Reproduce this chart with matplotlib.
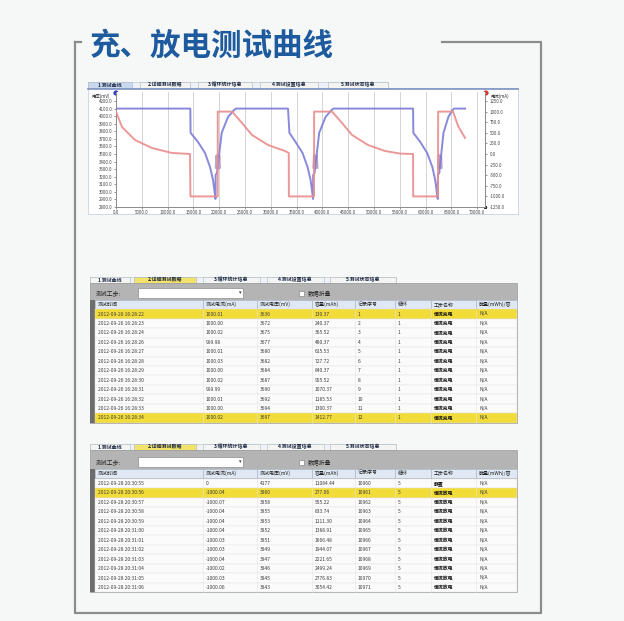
import matplotlib.pyplot as plt
from matplotlib.patches import Rectangle, Circle

plt.rcParams['font.family'] = ['Noto Sans CJK SC', 'DejaVu Sans']

W, H = 624, 621

title = "充、放电测试曲线"
chart_tabs = ["1.测试曲线", "2.详细测试数据", "3.循环统计信息", "4.测试设置信息", "5.测试状态信息"]

# voltage curve, time (s) / voltage (mV)
volt_t = [0, 14400, 14450, 15890, 17250, 18220, 18800, 19190, 19280, 19300, 19570, 20470, 21700, 22870, 23250,
          33330, 33600, 34790, 36150, 37120, 37700, 38090, 38180, 38200, 38470, 39370, 40600, 41770, 42150,
          57560, 57610, 58950, 60300, 61300, 61850, 62250, 62350, 62370, 62640, 63450, 64400, 65200, 65500, 67640]
volt_v = [4100, 4100, 3780, 3659, 3513, 3328, 3157, 2958, 2906, 3223, 3249, 3778, 3989, 4081, 4100,
          4100, 3780, 3659, 3513, 3328, 3157, 2958, 2906, 3223, 3249, 3778, 3989, 4081, 4100,
          4100, 3780, 3659, 3513, 3328, 3157, 2958, 2906, 3223, 3249, 3778, 3989, 4081, 4100, 4100]

# short pulse block after each discharge
pulse_t = [[19350, 19480, 19610, 19740, 19870, 20000, 20130],
           [38250, 38380, 38510, 38640, 38770, 38900, 39030],
           [62420, 62530, 62640, 62750, 62860, 62970, 63080]]
pulse_v = [[3320, 3480, 3320, 3480, 3320, 3480, 3320],
           [3320, 3480, 3320, 3480, 3320, 3480, 3320],
           [3320, 3480, 3320, 3480, 3320, 3480, 3320]]

# current curve, time (s) / current (mA)
curr_t = [0, 1160, 3680, 6980, 10850, 14340, 14420, 19700, 19720, 22480, 24420, 26360, 29460, 32750, 33480,
          33500, 38370, 38390, 41860, 43800, 45740, 48840, 52130, 55000, 57560, 57580, 62400, 62420, 65310,
          66280, 67640]
curr_i = [1000, 637, 330, 141, 24, 0, -1000, -1000, 1000, 1000, 731, 448, 212, 71, 24,
          -1000, -1000, 1000, 1000, 731, 448, 212, 71, 10, 0, -1000, -1000, 1000, 1000,
          660, 377]

volt_ticks = [2800, 2900, 3000, 3100, 3200, 3300, 3400, 3500, 3600, 3700, 3800, 3900, 4000, 4100, 4200]
curr_ticks = [-1250, -1000, -750, -500, -250, 0, 250, 500, 750, 1000, 1250]
time_ticks = [0, 5000, 10000, 15000, 20000, 25000, 30000, 35000, 40000, 45000, 50000, 55000, 60000, 65000, 70000]

table_tabs = ["1.测试曲线", "2.详细测试数据", "3.循环统计信息", "4.测试设置信息", "5.测试状态信息"]
headers = ["测试时间", "测试电流(mA)", "测试电压(mV)", "容量(mAh)", "记录序号", "循环", "工步名称", "能量(mWh)/容"]

t1_time = ["2012-09-26 16:28:22", "2012-09-26 16:28:23", "2012-09-26 16:28:24", "2012-09-26 16:28:26",
           "2012-09-26 16:28:27", "2012-09-26 16:28:28", "2012-09-26 16:28:29", "2012-09-26 16:28:30",
           "2012-09-26 16:28:31", "2012-09-26 16:28:32", "2012-09-26 16:28:33", "2012-09-26 16:28:34"]
t1_curr = ["1000.01", "1000.00", "1000.02", "999.98", "1000.01", "1000.03",
           "1000.00", "1000.02", "999.99", "1000.01", "1000.00", "1000.02"]
t1_volt = ["3636", "3672", "3675", "3677", "3680", "3682", "3684", "3687", "3690", "3692", "3694", "3697"]
t1_cap = ["130.37", "240.37", "365.52", "480.37", "615.53", "727.72",
          "840.37", "955.52", "1070.37", "1185.53", "1300.37", "1412.77"]
t1_seq = ["1", "2", "3", "4", "5", "6", "7", "8", "9", "10", "11", "12"]
t1_cycle = ["1"] * 12
t1_step = ["恒流充电"] * 12
t1_last = ["N/A"] * 12

t2_time = ["2012-09-28 20:30:55", "2012-09-28 20:30:56", "2012-09-28 20:30:57", "2012-09-28 20:30:58",
           "2012-09-28 20:30:59", "2012-09-28 20:31:00", "2012-09-28 20:31:01", "2012-09-28 20:31:02",
           "2012-09-28 20:31:03", "2012-09-28 20:31:04", "2012-09-28 20:31:05", "2012-09-28 20:31:06"]
t2_curr = ["0", "-1000.04", "-1000.07", "-1000.04", "-1000.04", "-1000.04",
           "-1000.03", "-1000.03", "-1000.04", "-1000.02", "-1000.03", "-1000.06"]
t2_volt = ["4177", "3860", "3858", "3855", "3853", "3852", "3851", "3849", "3847", "3846", "3845", "3843"]
t2_cap = ["11084.44", "277.06", "555.22", "833.74", "1111.30", "1388.91",
          "1666.48", "1944.07", "2221.65", "2499.24", "2776.83", "3054.42"]
t2_seq = ["10960", "10961", "10962", "10963", "10964", "10965",
          "10966", "10967", "10968", "10969", "10970", "10971"]
t2_cycle = ["5"] * 12
t2_step = ["静置"] + ["恒流放电"] * 11
t2_last = ["N/A"] * 12

col_x = [95, 203, 257, 312, 355, 395, 431, 476, 517]

fig = plt.figure(figsize=(W / 100, H / 100), dpi=100, facecolor='#f6f8f7')
bg = fig.add_axes([0, 0, 1, 1])
bg.set_xlim(0, W)
bg.set_ylim(H, 0)
bg.axis('off')

# outer frame
fc = '#8c8c8c'
bg.plot([75, 75, 541, 541, 442], [42, 613, 613, 42, 42], color=fc, lw=1.6)
bg.plot([75, 81], [42, 42], color=fc, lw=1.6)
bg.text(90, 46, title, fontsize=22, fontweight='bold', color='#1d5a9e', va='center', ha='left')


def draw_tabs(y0, y1, spans, labels, active, active_fc):
    bg.add_patch(Rectangle((spans[0][0], y0), spans[-1][1] - spans[0][0], y1 - y0,
                           fc='#eef1f5', ec='#c3cbd6', lw=0.5))
    for i, ((a, b), lab) in enumerate(zip(spans, labels)):
        face = active_fc if i == active else '#f4f5f2'
        bg.add_patch(Rectangle((a, y0), b - a, y1 - y0, fc=face, ec='#aab4c2', lw=0.4))
        bg.text((a + b) / 2, (y0 + y1) / 2, lab, fontsize=3.6, color='#1e2a44',
                fontweight='bold', ha='center', va='center')


# ---- chart panel ----
bg.add_patch(Rectangle((88, 88), 430, 126, fc='white', ec='#c9d3e0', lw=0.6))
bg.plot([88, 518], [89, 89], color='#7d93c0', lw=1.2)
draw_tabs(82, 88, [(88, 132), (140, 190), (198, 252), (260, 318), (328, 388)],
          chart_tabs, 0, '#c9d8ee')

ax = fig.add_axes([116 / W, 1 - 207 / H, (485 - 116) / W, (207 - 92) / H])
ax.set_facecolor('white')
ax.set_xlim(0, 71500)
ax.set_ylim(2800, 4319)
ax.set_xticks(time_ticks)
ax.set_xticklabels([f"{t:.1f}" for t in time_ticks])
ax.set_yticks(volt_ticks)
ax.set_yticklabels([f"{v:.1f}" for v in volt_ticks])
ax.tick_params(labelsize=3.2, length=1.5, width=0.4, pad=1, colors='#444444')
ax.grid(axis='x', color='#d4d4d4', lw=0.7)
ax.spines['top'].set_visible(False)
for s in ['left', 'bottom', 'right']:
    ax.spines[s].set_color('#8a8a8a')
    ax.spines[s].set_linewidth(0.7)
ax.plot(volt_t, volt_v, color='#7c7cd8', lw=1.4, alpha=0.9, zorder=3)
for pt, pv in zip(pulse_t, pulse_v):
    ax.plot(pt, pv, color='#b9a6c8', lw=1.6, zorder=2)

ax2 = ax.twinx()
ax2.set_ylim(-1250, 1462)
ax2.set_yticks(curr_ticks)
ax2.set_yticklabels([f"{c:.1f}" for c in curr_ticks])
ax2.tick_params(labelsize=3.2, length=1.5, width=0.4, pad=2, colors='#444444')
for s in ['top', 'left', 'bottom']:
    ax2.spines[s].set_visible(False)
ax2.spines['right'].set_color('#8a8a8a')
ax2.spines['right'].set_linewidth(0.7)
ax2.plot(curr_t, curr_i, color='#e88d8d', lw=1.4, alpha=0.9, zorder=2)

bg.text(91, 96, "电压(mV)", fontsize=3.2, color='#333333', va='center')
bg.text(490, 96, "电流(mA)", fontsize=3.2, color='#333333', va='center')
bg.add_patch(Circle((116, 93), 2.6, fc='#3340c8', ec='none', zorder=10))
bg.add_patch(Circle((486, 93), 2.6, fc='#d83a3a', ec='none', zorder=10))
bg.add_patch(Rectangle((484, 205.5), 3, 3, fc='#333333', ec='none', zorder=10))


# ---- tables ----
def draw_table(tab_y, top, bottom, combo_y, head_y, row_y0, columns, yellow):
    draw_tabs(tab_y, tab_y + 6, [(90, 130), (134, 196), (203, 260), (267, 324), (330, 396)],
              table_tabs, 1, '#f3e36a')
    bg.add_patch(Rectangle((90, top), 427, bottom - top, fc='#b4b4b4', ec='#9a9a9a', lw=0.5))
    bg.text(96, combo_y, "测试工步:", fontsize=4.2, color='#222222', va='center')
    bg.add_patch(Rectangle((138, combo_y - 5), 105, 10, fc='white', ec='#8d8d8d', lw=0.5))
    bg.text(240, combo_y, "▾", fontsize=3.6, color='#333333', va='center', ha='center')
    bg.add_patch(Rectangle((299, combo_y - 2.5), 5, 5, fc='white', ec='#777777', lw=0.4))
    bg.text(308, combo_y, "数据折叠", fontsize=4.2, color='#222222', va='center')
    bg.add_patch(Rectangle((90, head_y - 4.5), 5, bottom - head_y + 4.5, fc='#6d6d6d', ec='none'))
    for j, h in enumerate(headers):
        bg.add_patch(Rectangle((col_x[j], head_y - 4.5), col_x[j + 1] - col_x[j], 9,
                               fc='#dfe8f3', ec='#a7b4c6', lw=0.4))
        bg.text(col_x[j] + 3, head_y, h, fontsize=3.6, color='#222222', va='center',
                clip_on=True)
    n = len(columns[0])
    rh = 9.45
    for r in range(n):
        yc = row_y0 + r * rh
        face = '#f2dc3a' if r in yellow else '#fbfbfb'
        bg.add_patch(Rectangle((95, yc - rh / 2), 422, rh, fc=face, ec='#e2e2e2', lw=0.3))
        for j in range(len(columns)):
            bold = j == 6
            bg.text(col_x[j] + 3, yc, columns[j][r], fontsize=3.5,
                    color='#111111' if bold else '#3a3a3a',
                    fontweight='bold' if bold else 'normal', va='center')
    for xc in col_x[1:-1]:
        bg.plot([xc, xc], [row_y0 - rh / 2, row_y0 + (n - 0.5) * rh], color='#e4e4e4', lw=0.4)


draw_table(277, 283, 423, 293, 304.5, 314,
           [t1_time, t1_curr, t1_volt, t1_cap, t1_seq, t1_cycle, t1_step, t1_last], [0, 11])
draw_table(444, 450, 592, 462, 473, 483.5,
           [t2_time, t2_curr, t2_volt, t2_cap, t2_seq, t2_cycle, t2_step, t2_last], [1])

fig.savefig("out.png", dpi=100, facecolor=fig.get_facecolor())
